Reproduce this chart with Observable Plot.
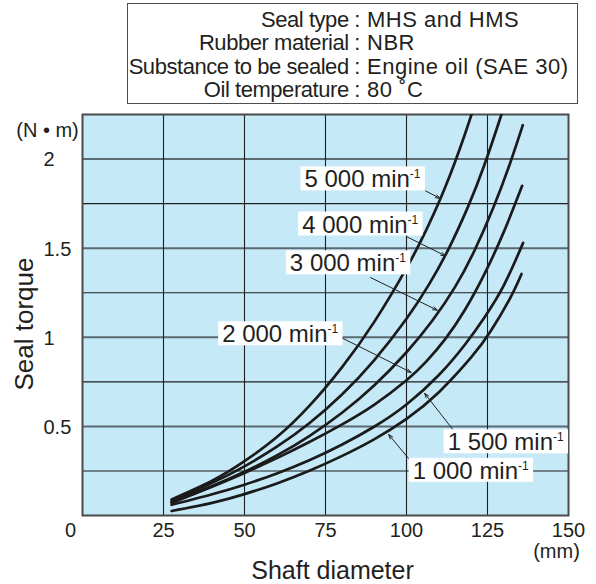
<!DOCTYPE html>
<html><head><meta charset="utf-8">
<script src="https://cdn.jsdelivr.net/npm/d3@7"></script>
<script src="https://cdn.jsdelivr.net/npm/@observablehq/plot@0.6"></script>
<style>
body{margin:0;background:#fff;font-family:"Liberation Sans",Arial,sans-serif;color:#231f20;}
#wrap{position:relative;width:596px;height:584px;overflow:hidden;}
#conditions{position:absolute;left:127px;top:3px;width:451px;height:101px;box-sizing:border-box;border:1.5px solid #4d4d4d;padding-top:4px;font-size:22px;line-height:23.3px;}
.row{display:flex;white-space:nowrap;}
.k{width:232px;text-align:right;letter-spacing:-0.45px;}
.v{padding-left:7px;letter-spacing:0.5px;}
#chart{position:absolute;left:0;top:108px;}
</style></head>
<body>
<div id="wrap">
  <div id="conditions"></div>
  <div id="chart"></div>
</div>
<script>
// ---- data ----
const conditionKeys = ["Seal type :", "Rubber material :", "Substance to be sealed :", "Oil temperature :"];
const conditionValues = ["MHS and HMS", "NBR", "Engine oil (SAE 30)", "80 ˚C"];

const xTicks = [25, 50, 75, 100, 125, 150];
const yTicks = [0.5, 1, 1.5, 2];
const xGrid = [25, 50, 75, 100, 125];
const yGridMinor = [0.25, 0.75, 1.25, 1.75];
const yGridMajor = [0.5, 1, 1.5, 2];
const originLabel = ["0"];

const speeds = ["5 000", "4 000", "3 000", "2 000", "1 500", "1 000"];

// [shaft diameter (mm), seal torque (N·m)]
const rpm5000 = [[27.5,0.09],[40,0.195],[50,0.305],[60,0.44],[70,0.615],[80,0.83],[90,1.085],[100,1.388],[106,1.598],[112,1.844],[118,2.138],[122,2.36]];
const rpm4000 = [[27.5,0.08],[40,0.183],[50,0.276],[60,0.386],[70,0.518],[80,0.678],[90,0.871],[100,1.104],[107,1.298],[113,1.496],[119,1.733],[124,1.965],[129,2.233],[131,2.35]];
const rpm3000 = [[27.5,0.075],[40,0.165],[50,0.245],[60,0.337],[70,0.446],[80,0.575],[90,0.729],[100,0.916],[108,1.094],[115,1.283],[121,1.487],[127,1.736],[132,1.978],[135.9,2.19]];
const rpm2000 = [[27.5,0.07],[40,0.162],[50,0.239],[60,0.322],[70,0.412],[80,0.51],[90,0.621],[100,0.759],[106,0.862],[112,0.991],[118,1.153],[124,1.353],[130,1.59],[135.7,1.85]];
const rpm1500 = [[27.5,0.06],[40,0.119],[50,0.173],[60,0.236],[70,0.31],[80,0.397],[90,0.498],[100,0.623],[110,0.788],[118,0.958],[124,1.11],[130,1.29],[136,1.53]];
const rpm1000 = [[27.5,0.025],[40,0.071],[50,0.12],[60,0.18],[70,0.251],[80,0.333],[90,0.427],[100,0.542],[110,0.692],[120,0.888],[126,1.035],[132,1.22],[135.5,1.355]];

// label anchors (data units) and leader arrows
const labelX = [68.5, 67.8, 64.0, 43.1, 112.7, 101.9];
const labelY = [1.884, 1.631, 1.413, 1.015, 0.409, 0.249];
const arrowX1 = [105.9, 100.2, 88.9, 78.8, 114.6, 101.2];
const arrowY1 = [1.821, 1.563, 1.335, 1.008, 0.476, 0.308];
const arrowX2 = [110.3, 112.0, 109.5, 101.4, 105.6, 94.5];
const arrowY2 = [1.78, 1.457, 1.152, 0.803, 0.685, 0.454];

const xTitle = ["Shaft diameter"];
const yTitle = ["Seal torque"];
const yUnit = ["(N • m)"];
const xUnit = ["(mm)"];

// ---- header ----
const cond = document.getElementById("conditions");
conditionKeys.forEach((k, i) => {
  const row = document.createElement("div"); row.className = "row";
  const a = document.createElement("span"); a.className = "k"; a.textContent = k;
  const b = document.createElement("span"); b.className = "v"; b.textContent = conditionValues[i];
  row.append(a, b); cond.append(row);
});

// ---- chart ----
const series = [rpm5000, rpm4000, rpm3000, rpm2000, rpm1500, rpm1000];
const curveData = speeds.flatMap((s, i) => series[i].map(([x, y]) => ({speed: s, x, y})));
const labels = speeds.map((s, i) => ({
  text: s + " min", x: labelX[i], y: labelY[i],
  x1: arrowX1[i], y1: arrowY1[i], x2: arrowX2[i], y2: arrowY2[i]
}));

const ink = "#231f20";
const chart = Plot.plot({
  width: 596, height: 476,
  marginLeft: 82, marginRight: 28, marginTop: 6, marginBottom: 69,
  x: {domain: [0, 150]},
  y: {domain: [0, 2.25]},
  style: {fontFamily: "'Liberation Sans', Arial, sans-serif", color: ink, background: "white", overflow: "visible"},
  marks: [
    Plot.frame({fill: "#c6e9f8", stroke: "none"}),
    Plot.ruleY(yGridMinor, {stroke: "#1e1e1e", strokeWidth: 1.1}),
    Plot.ruleY(yGridMajor, {stroke: "#5b6a70", strokeWidth: 2}),
    Plot.ruleX(xGrid, {stroke: "#1e1e1e", strokeWidth: 1.1}),
    Plot.frame({stroke: "#4a4a4a", strokeWidth: 2}),
    Plot.line(curveData, {x: "x", y: "y", z: "speed", stroke: "#1b1b1b", strokeWidth: 2.7, curve: "natural", clip: true}),
    Plot.arrow(labels, {x1: "x1", y1: "y1", x2: "x2", y2: "y2", stroke: "#222", strokeWidth: 1, headLength: 7, headAngle: 40}),
    Plot.text(labels, {x: "x", y: "y", text: "text", textAnchor: "start", lineAnchor: "middle", fontSize: 24, fill: ink}),
    Plot.axisX(xTicks, {tickSize: 0, tickPadding: 7, fontSize: 20, label: null}),
    Plot.axisY(yTicks, {tickSize: 0, tickPadding: 0, textAnchor: "start", dx: -39, dy: 1, fontSize: 20, label: null, tickFormat: d => String(d)}),
    Plot.text(originLabel, {x: d => +d, text: d => d, frameAnchor: "bottom", lineAnchor: "top", textAnchor: "middle", dy: 7, dx: -12, fontSize: 20}),
    Plot.text(xUnit, {x: () => xTicks[xTicks.length - 1], text: d => d, frameAnchor: "bottom", lineAnchor: "middle", textAnchor: "middle", dy: 36, dx: -12, fontSize: 20}),
    Plot.text(xTitle, {text: d => d, frameAnchor: "bottom", lineAnchor: "middle", textAnchor: "middle", dy: 55, dx: 7, fontSize: 25}),
    Plot.text(yTitle, {text: d => d, frameAnchor: "left", lineAnchor: "middle", textAnchor: "middle", rotate: -90, dx: -58, dy: 9, fontSize: 26}),
    Plot.text(yUnit, {text: d => d, frameAnchor: "top-left", lineAnchor: "middle", textAnchor: "middle", dx: -35, dy: 16, fontSize: 20})
  ]
});
document.getElementById("chart").append(chart);

// superscript "-1" and white label boxes
const svg = chart.tagName.toLowerCase() === "svg" ? chart : chart.querySelector("svg");
const svgRect = svg.getBoundingClientRect();
const ns = "http://www.w3.org/2000/svg";
const labelTexts = Array.from(svg.querySelectorAll("text")).filter(t => / min$/.test(t.textContent));
if (labelTexts.length) {
  const boxes = document.createElementNS(ns, "g");
  labelTexts.forEach(t => {
    const sup = document.createElementNS(ns, "tspan");
    sup.setAttribute("dy", "-9");
    sup.setAttribute("font-size", "12");
    sup.textContent = "-1";
    t.appendChild(sup);
    const b = t.getBoundingClientRect();
    const r = document.createElementNS(ns, "rect");
    r.setAttribute("x", b.left - svgRect.left - 4);
    r.setAttribute("y", b.top - svgRect.top + 1);
    r.setAttribute("width", b.width + 8);
    r.setAttribute("height", b.height - 3);
    r.setAttribute("fill", "white");
    boxes.appendChild(r);
  });
  const g = labelTexts[0].parentNode;
  g.parentNode.insertBefore(boxes, g);
}
</script>
</body></html>
